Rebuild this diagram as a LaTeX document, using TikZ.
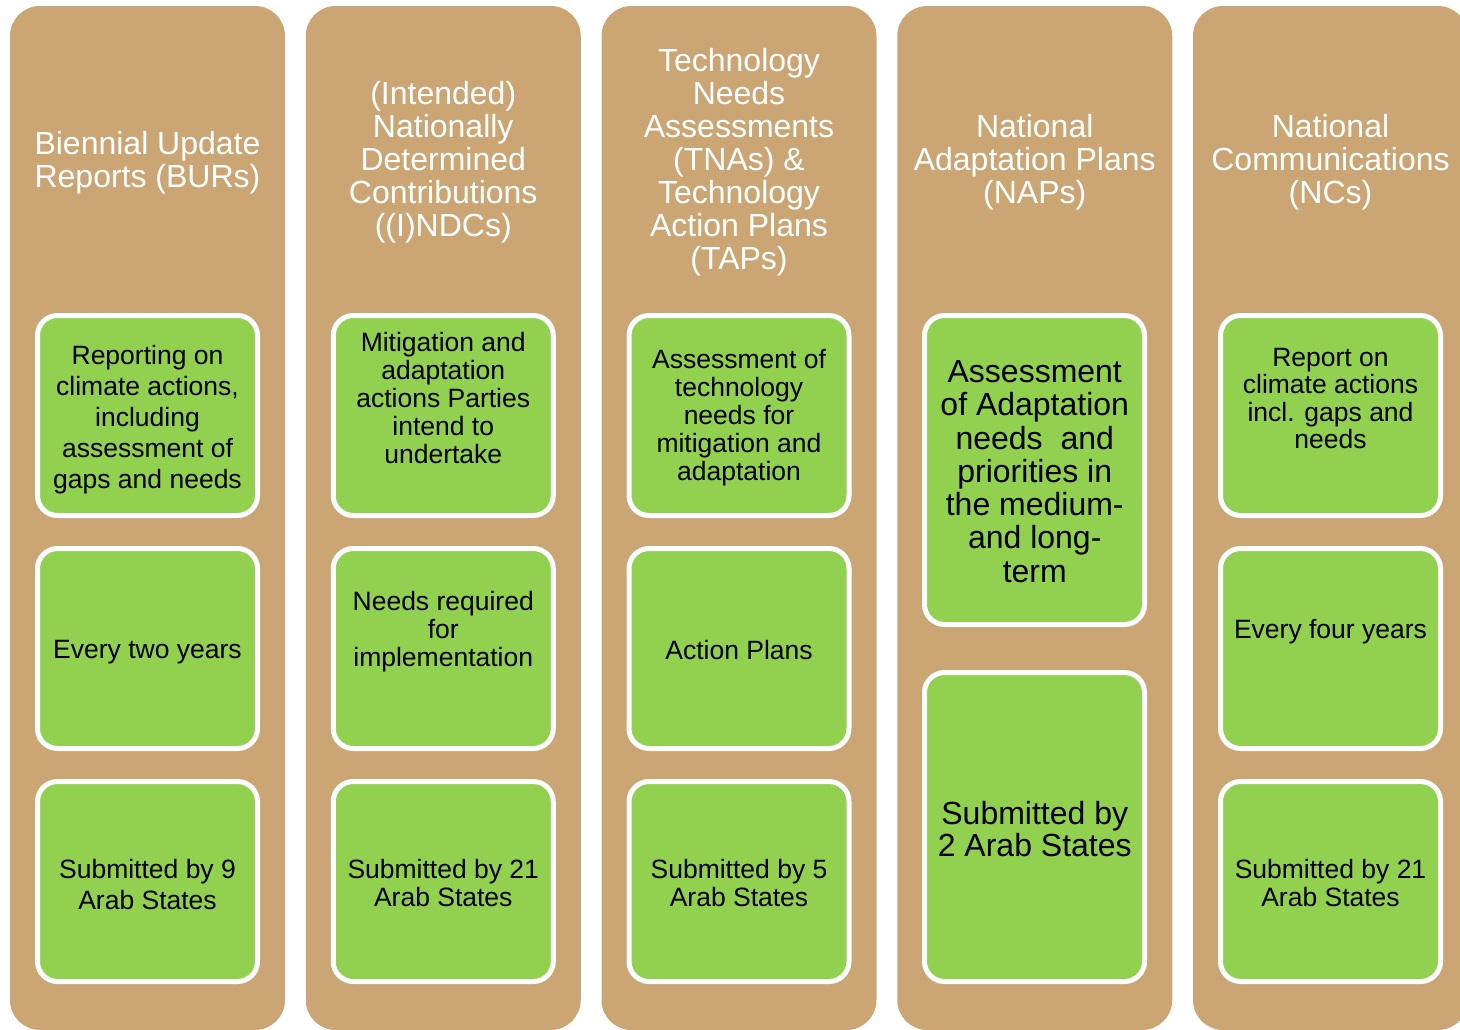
\documentclass[tikz,border=0pt]{standalone}
\usepackage{fontspec}
\setmainfont{Liberation Sans}
\definecolor{tanbg}{RGB}{203,165,116}
\definecolor{leaf}{RGB}{146,208,80}
\begin{document}
\begin{tikzpicture}[x=1pt,y=-1pt,
 colbox/.style={fill=tanbg, rounded corners=30pt},
 cell/.style={fill=leaf, draw=white, line width=5pt, rounded corners=20pt},
 head/.style={text=white, align=center, inner sep=0pt, yshift=-2.5pt, font=\fontsize{32}{33}\selectfont},
 body/.style={text=black, align=center, inner sep=0pt, yshift=-2.5pt, font=\fontsize{26.5}{28}\selectfont},
 bodyw/.style={body, font=\fontsize{26.5}{31}\selectfont},
 bodybig/.style={body, font=\fontsize{32}{33.3}\selectfont},
]
\useasboundingbox (0,0) rectangle (1460,1029);
\clip (0,0) rectangle (1460,1029);
\fill[white] (0,0) rectangle (1460,1029);
% columns
\foreach \i in {0,...,4}{
  \pgfmathsetmacro{\xl}{10+295.75*\i}
  \fill[colbox] (\xl,6) rectangle ({\xl+275},1030);
}
% green cells: standard three-row columns
\foreach \i in {0,1,2,4}{
  \pgfmathsetmacro{\xl}{37.5+295.75*\i}
  \draw[cell] (\xl,315.5) rectangle ({\xl+220},515.5);
  \draw[cell] (\xl,548.5) rectangle ({\xl+220},748.5);
  \draw[cell] (\xl,781.5) rectangle ({\xl+220},981.5);
}
% column 4 cells
\draw[cell] (924.5,315.5) rectangle (1144.5,624.5);
\draw[cell] (924.5,672.5) rectangle (1144.5,981.5);

% headings
\node[head] (h1) at (147.5,160) {Biennial Update\\Reports (BURs)};
\node[head] (h2) at (443.25,160) {(Intended)\\Nationally\\Determined\\Contributions\\((I)NDCs)};
\node[head] (h3) at (739,160) {Technology\\Needs\\Assessments\\(TNAs) \&\\Technology\\Action Plans\\(TAPs)};
\node[head] (h4) at (1034.75,160) {National\\Adaptation Plans\\(NAPs)};
\node[head] (h5) at (1330.5,160) {National\\Communications\\(NCs)};

% column 1
\node[bodyw] (a1) at (147.5,417) {Reporting on\\climate actions,\\including\\assessment of\\gaps and needs};
\node[bodyw] (a2) at (147.5,650) {Every two years};
\node[bodyw] (a3) at (147.5,882.5) {Submitted by 9\\Arab States};
% column 2
\node[body] (b1) at (443.25,396) {Mitigation and\\adaptation\\actions Parties\\intend to\\undertake};
\node[body] (b2) at (443.25,629) {Needs required\\for\\implementation};
\node[body] (b3) at (443.25,881) {Submitted by 21\\Arab States};
% column 3
\node[body] (c1) at (739,415.5) {Assessment of\\technology\\needs for\\mitigation and\\adaptation};
\node[body] (c2) at (739,648) {Action Plans};
\node[body] (c3) at (739,881) {Submitted by 5\\Arab States};
% column 4
\node[bodybig] (d1) at (1034.75,469) {Assessment\\of Adaptation\\needs\ \ and\\priorities in\\the medium-\\and long-\\term};
\node[bodybig, font=\fontsize{32}{32}\selectfont] (d2) at (1034.75,827) {Submitted by\\2 Arab States};
% column 5
\node[body, font=\fontsize{26.5}{27.3}\selectfont] (e1) at (1330.5,396) {Report on\\climate actions\\incl. gaps and\\needs};
\node[body] (e2) at (1330.5,629) {Every four years};
\node[body] (e3) at (1330.5,881) {Submitted by 21\\Arab States};
\end{tikzpicture}
\end{document}
